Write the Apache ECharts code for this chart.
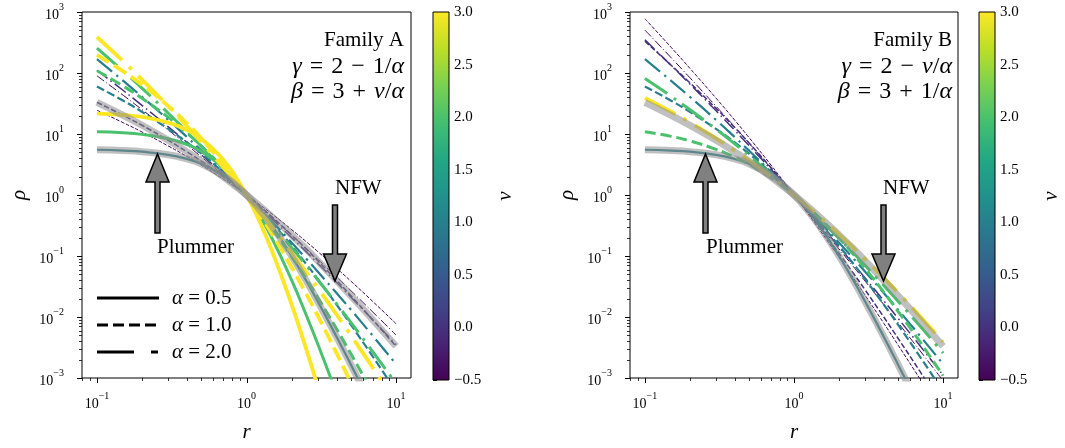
<!DOCTYPE html>
<html><head><meta charset="utf-8">
<script src="https://cdn.jsdelivr.net/npm/echarts@6/dist/echarts.min.js"></script>
<style>html,body{margin:0;padding:0;background:#fff}#c{width:1065px;height:448px}</style>
</head><body><div id="c"></div>
<script>
// ---------------- data ----------------
const r = [0.1,0.15,0.2,0.3,0.4,0.5,0.7,0.85,1,1.2,1.5,2,2.5,3,4,5,7,10];
const xMajorTicks = [0.1,1,10];
const yMajorTicks = [1e-3,1e-2,1e-1,1,10,100,1000];

// reference profiles (grey)
const rho_Plummer = [5.52,5.35,5.13,4.56,3.90,3.24,2.09,1.453,1,0.608,0.297,0.101,0.0400,0.0179,0.00475,0.00164,0.00032];
const rho_NFW     = [33.1,20.2,13.9,7.89,5.10,3.56,1.98,1.375,1,0.689,0.427,0.222,0.131,0.0833,0.04,0.0222,0.00893,0.00331];

// Family A, alpha = 0.5 (solid)
const A_a05_nu1 = [5.52,5.35,5.13,4.56,3.90,3.24,2.09,1.453,1,0.608,0.297,0.101,0.0400,0.0179,0.00475,0.00164,0.00032];
const A_a05_nu2 = [10.9,10.5,9.86,8.37,6.73,5.18,2.80,1.687,1,0.498,0.183,0.0405,0.0110,0.00358,0.000559,0.000126];
const A_a05_nu3 = [21.6,20.5,19.0,15.4,11.6,8.29,3.76,1.958,1,0.409,0.112,0.0162,0.00304,0.000716,0.0000657];
// Family A, alpha = 1.0 (dashed)
const A_a1_num05 = [24.5,15.3,10.8,6.36,4.27,3.08,1.82,1.322,1,0.722,0.477,0.272,0.173,0.118,0.0632,0.0385,0.0179,0.00775];
const A_a1_nu0   = [33.1,20.2,13.9,7.89,5.10,3.56,1.98,1.375,1,0.689,0.427,0.222,0.131,0.0833,0.04,0.0222,0.00893,0.00331];
const A_a1_nu1   = [60.1,35.1,23.1,12.1,7.29,4.74,2.33,1.486,1,0.626,0.341,0.148,0.0746,0.0417,0.016,0.00741,0.00223,0.000601];
const A_a1_nu2   = [109,61.0,38.6,18.7,10.4,6.32,2.74,1.607,1,0.569,0.273,0.0988,0.0427,0.0208,0.0064,0.00247,0.000558,0.000109];
const A_a1_nu3   = [199,106,64.3,28.7,14.9,8.43,3.22,1.737,1,0.517,0.219,0.0658,0.0244,0.0104,0.00256,0.000823,0.000139];
// Family A, alpha = 2.0 (dash-dot)
const A_a2_num05 = [90.0,43.0,25.1,11.6,6.57,4.20,2.11,1.409,1,0.677,0.417,0.221,0.134,0.0882,0.0454,0.0269,0.0120,0.00506];
const A_a2_nu0   = [111,51.6,29.5,13.1,7.27,4.55,2.21,1.438,1,0.661,0.396,0.201,0.118,0.0755,0.0370,0.0211,0.00891,0.00351];
const A_a2_nu1   = [169,74.3,40.8,17.0,8.91,5.33,2.40,1.496,1,0.631,0.356,0.167,0.0912,0.0553,0.0247,0.0131,0.00489,0.00169];
const A_a2_nu2   = [256,107,56.4,21.9,10.9,6.24,2.61,1.557,1,0.603,0.320,0.138,0.0707,0.0405,0.0165,0.00806,0.00268,0.00081];
const A_a2_nu3   = [389,155,77.9,28.4,13.4,7.31,2.85,1.620,1,0.575,0.287,0.114,0.0548,0.0296,0.0110,0.00498,0.00147,0.000389];

// Family B, alpha = 0.5 (solid)
const B_a05_nu1 = [5.52,5.35,5.13,4.56,3.90,3.24,2.09,1.453,1,0.608,0.297,0.101,0.0400,0.0179,0.00475,0.00164,0.00032];
// Family B, alpha = 1.0 (dashed)
const B_a1_num05 = [775,263,120,38.7,16.9,8.71,3.11,1.688,1,0.550,0.260,0.0962,0.0437,0.0227,0.00791,0.00344,0.000964,0.000245];
const B_a1_nu0   = [331,134,69.4,26.3,12.8,7.11,2.83,1.618,1,0.574,0.284,0.111,0.0522,0.0278,0.01,0.00444,0.00128,0.000331];
const B_a1_nu1   = [60.1,35.1,23.1,12.1,7.29,4.74,2.33,1.486,1,0.626,0.341,0.148,0.0746,0.0417,0.016,0.00741,0.00223,0.000601];
const B_a1_nu2   = [10.9,9.15,7.72,5.60,4.17,3.16,1.92,1.366,1,0.683,0.410,0.198,0.107,0.0625,0.0256,0.0123,0.00391,0.00109];
// Family B, alpha = 2.0 (dash-dot)
const B_a2_num05 = [506,178,84.0,28.5,13.1,7.07,2.76,1.592,1,0.591,0.308,0.131,0.0672,0.0387,0.0160,0.00803,0.00280,0.0009];
const B_a2_nu0   = [351,133,66.0,24.0,11.5,6.43,2.64,1.559,1,0.604,0.323,0.142,0.0745,0.0436,0.0185,0.00945,0.00337,0.00111];
const B_a2_nu1   = [169,74.3,40.8,17.0,8.91,5.33,2.40,1.496,1,0.631,0.356,0.167,0.0912,0.0553,0.0247,0.0131,0.00489,0.00169];
const B_a2_nu2   = [81.0,41.5,25.2,12.0,6.90,4.41,2.19,1.436,1,0.660,0.391,0.195,0.112,0.0701,0.0329,0.0180,0.0071,0.00256];
const B_a2_nu3   = [38.9,23.2,15.6,8.51,5.35,3.66,1.99,1.377,1,0.690,0.431,0.229,0.137,0.0888,0.0439,0.0249,0.0103,0.00389];

// ---------------- style ----------------
const FONT = 'Liberation Serif';
const viridis = ['#440154','#482475','#414487','#355f8d','#2a788e','#21918c','#22a884','#44bf70','#7ad151','#bddf26','#fde725'];
const nuColor = {'-0.5':'#440154','0':'#46307e','1':'#277f8e','2':'#4ac16d','3':'#fde725'};
const nuWidth = {'-0.5':1,'0':1.5,'1':2.2,'2':3,'3':3.8};
const G = [{left:82,top:12,width:329,height:368},{left:630,top:12,width:328,height:368}];
const CB = [{left:433,top:12,width:16,height:368},{left:979,top:12,width:16,height:368}];
const XMIN = Math.pow(10,-1.1), XMAX = Math.pow(10,1.1), YMIN = 1e-3, YMAX = 1e3;

function pairs(v){ return v.map((y,i)=>[r[i],y]); }
function dashFor(alpha, lw){
  if (alpha === 0.5) return 'solid';
  if (alpha === 1) return [3.7*lw, 1.6*lw];
  return [9*lw, 2.5*lw, 1*lw, 2.5*lw];
}
function curve(panel, alpha, nu, vals){
  const lw = nuWidth[String(nu)];
  return {type:'line', xAxisIndex:panel, yAxisIndex:panel, data:pairs(vals), showSymbol:false,
    smooth:0.5, silent:true, clip:true,
    lineStyle:{color:nuColor[String(nu)], width:lw, type:dashFor(alpha,lw), cap:'butt'}};
}
function grey(panel, vals){
  return {type:'line', xAxisIndex:panel, yAxisIndex:panel, data:pairs(vals), showSymbol:false,
    smooth:0.5, silent:true, clip:true, z:5,
    lineStyle:{color:'#8c8c8c', opacity:0.55, width:7}};
}

const series = [
  curve(0,1,-0.5,A_a1_num05), curve(0,2,-0.5,A_a2_num05),
  curve(0,1,0,A_a1_nu0), curve(0,2,0,A_a2_nu0),
  curve(0,0.5,1,A_a05_nu1), curve(0,1,1,A_a1_nu1), curve(0,2,1,A_a2_nu1),
  curve(0,0.5,2,A_a05_nu2), curve(0,1,2,A_a1_nu2), curve(0,2,2,A_a2_nu2),
  curve(0,0.5,3,A_a05_nu3), curve(0,1,3,A_a1_nu3), curve(0,2,3,A_a2_nu3),
  grey(0,rho_NFW), grey(0,rho_Plummer),
  curve(1,1,-0.5,B_a1_num05), curve(1,2,-0.5,B_a2_num05),
  curve(1,1,0,B_a1_nu0), curve(1,2,0,B_a2_nu0),
  curve(1,0.5,1,B_a05_nu1), curve(1,1,1,B_a1_nu1), curve(1,2,1,B_a2_nu1),
  curve(1,1,2,B_a1_nu2), curve(1,2,2,B_a2_nu2),
  curve(1,2,3,B_a2_nu3),
  grey(1,rho_NFW), grey(1,rho_Plummer)
];

// tick marks (major + minor) drawn through the axes' scales
const xTickData = [], yTickData = [];
xMajorTicks.forEach(v=>xTickData.push([v,YMIN,1]));
[0.01,0.1,1].forEach(d=>{ for(let m=2;m<=9;m++){ const v=m*d; if(v>XMIN&&v<XMAX) xTickData.push([v,YMIN,0]); }});
yMajorTicks.forEach(v=>yTickData.push([XMIN,v,1]));
[1e-3,1e-2,1e-1,1,10,100].forEach(d=>{ for(let m=2;m<=9;m++) yTickData.push([XMIN,m*d,0]); });
function tickSeries(panel, data, dir){
  return {type:'custom', xAxisIndex:panel, yAxisIndex:panel, silent:true, z:10, data:data,
    renderItem:function(params, api){
      const major = api.value(2)===1; const len = major?5:3;
      const p = api.coord([api.value(0), api.value(1)]);
      const shape = dir==='x' ? {x1:Math.round(p[0])+0.5,y1:p[1],x2:Math.round(p[0])+0.5,y2:p[1]+len}
                              : {x1:p[0],y1:Math.round(p[1])+0.5,x2:p[0]-len,y2:Math.round(p[1])+0.5};
      return {type:'line', shape:shape, style:{stroke:'#000', lineWidth:major?1:0.8}};
    }};
}
series.push(tickSeries(0,xTickData,'x'), tickSeries(0,yTickData,'y'), tickSeries(1,xTickData,'x'), tickSeries(1,yTickData,'y'));

function powLabel(v){
  const e = Math.log10(v); const k = Math.round(e);
  if (Math.abs(e-k) > 1e-6) return '';
  return '{b|10}{s|' + String(k).replace('-','\u2212') + '}';
}
const powRich = {b:{fontSize:14, fontFamily:FONT, color:'#000', lineHeight:20, verticalAlign:'bottom'},
                 s:{fontSize:10, fontFamily:FONT, color:'#000', lineHeight:20, verticalAlign:'top'}};

const grids = [], xAxes = [], yAxes = [];
[0,1].forEach(i=>{
  grids.push(Object.assign({show:true, borderColor:'#000', borderWidth:1, backgroundColor:'transparent'}, G[i]));
  xAxes.push({type:'log', logBase:10, gridIndex:i, min:XMIN, max:XMAX,
    axisLine:{show:false}, axisTick:{show:false}, splitLine:{show:false},
    axisLabel:{formatter:powLabel, rich:powRich, margin:13},
    name:'r', nameLocation:'middle', nameGap:44,
    nameTextStyle:{fontFamily:FONT, fontStyle:'italic', fontSize:21, color:'#000'}});
  yAxes.push({type:'log', logBase:10, gridIndex:i, min:YMIN, max:YMAX,
    axisLine:{show:false}, axisTick:{show:false}, splitLine:{show:false},
    axisLabel:{formatter:powLabel, rich:powRich, margin:18},
    name:'\u03c1', nameLocation:'middle', nameGap:52,
    nameTextStyle:{fontFamily:FONT, fontStyle:'italic', fontSize:21, color:'#000'}});
});
[0,1].forEach(i=>{
  grids.push(Object.assign({show:false}, CB[i]));
  xAxes.push({type:'value', gridIndex:2+i, min:0, max:1, show:false});
  yAxes.push({type:'value', gridIndex:2+i, min:-0.5, max:3, interval:0.5, position:'right',
    axisLine:{show:false}, splitLine:{show:false},
    axisTick:{show:true, inside:false, length:4, lineStyle:{color:'#000', width:1}},
    axisLabel:{fontFamily:FONT, fontSize:15, color:'#000', margin:5,
      formatter:v=>v.toFixed(1).replace('-','\u2212')},
    name:'\u03bd', nameLocation:'middle', nameGap:46,
    nameTextStyle:{fontFamily:FONT, fontStyle:'italic', fontSize:21, color:'#000'}});
});

// ---------------- annotations ----------------
const gfx = [];
CB.forEach(c=>{
  gfx.push({type:'rect', shape:{x:c.left,y:c.top,width:c.width,height:c.height}, z:1,
    style:{fill:{type:'linear',x:0,y:1,x2:0,y2:0,colorStops:viridis.map((col,i)=>({offset:i/(viridis.length-1),color:col}))},
           stroke:'#000', lineWidth:1}});
});
function arrowUp(cx,tip,base,bottom){
  return {type:'polygon', z:100, shape:{points:[[cx,tip],[cx+11.5,base],[cx+2.5,base],[cx+2.5,bottom],[cx-2.5,bottom],[cx-2.5,base],[cx-11.5,base]]},
    style:{fill:'#808080', stroke:'#000', lineWidth:1.5}};
}
function arrowDown(cx,tip,base,top){
  return {type:'polygon', z:100, shape:{points:[[cx,tip],[cx+11.5,base],[cx+2.5,base],[cx+2.5,top],[cx-2.5,top],[cx-2.5,base],[cx-11.5,base]]},
    style:{fill:'#808080', stroke:'#000', lineWidth:1.5}};
}
function txt(x,y,text,size,align,rich){
  return {type:'text', x:x, y:y, z:100, style:{text:text, fontSize:size, fontFamily:FONT, fill:'#000',
    align:align, textAlign:align, verticalAlign:'middle', textVerticalAlign:'middle', rich:rich||{}}};
}
const mathRich = {i:{fontStyle:'italic', fontSize:24, fontFamily:FONT, fill:'#000'}, n:{fontSize:24, fontFamily:FONT, fill:'#000'}};
const legRich = {i:{fontStyle:'italic', fontSize:21, fontFamily:FONT, fill:'#000'}, n:{fontSize:21, fontFamily:FONT, fill:'#000'}};
const S = '\u2004';
gfx.push(arrowUp(157.5,154,182,233), arrowDown(335,281,254,205), arrowUp(705.5,154,182,233), arrowDown(883.5,281,254,205));
gfx.push(txt(157,247,'Plummer',21,'left'), txt(335,188,'NFW',21,'left'),
         txt(706,247,'Plummer',21,'left'), txt(883,188,'NFW',21,'left'));
gfx.push(txt(404,40,'Family A',21,'right'),
         txt(404,67,'{i|\u03b3}{n|'+S+'='+S+'2'+S+'\u2212'+S+'1/}{i|\u03b1}',24,'right',mathRich),
         txt(404,92,'{i|\u03b2}{n|'+S+'='+S+'3'+S+'+'+S+'}{i|\u03bd}{n|/}{i|\u03b1}',24,'right',mathRich),
         txt(952,40,'Family B',21,'right'),
         txt(952,67,'{i|\u03b3}{n|'+S+'='+S+'2'+S+'\u2212'+S+'}{i|\u03bd}{n|/}{i|\u03b1}',24,'right',mathRich),
         txt(952,92,'{i|\u03b2}{n|'+S+'='+S+'3'+S+'+'+S+'1/}{i|\u03b1}',24,'right',mathRich));
// legend (alpha line styles)
const legendRows = [{y:298, dash:'solid', label:'0.5'},{y:325, dash:[11,5], label:'1.0'},{y:352, dash:[37,17,7,17], label:'2.0'}];
legendRows.forEach(row=>{
  gfx.push({type:'line', z:100, shape:{x1:97,y1:row.y,x2:159,y2:row.y}, style:{stroke:'#000', lineWidth:3, lineDash:row.dash==='solid'?null:row.dash}});
  gfx.push(txt(172,row.y,'{i|\u03b1}{n| = '+row.label+'}',21,'left',legRich));
});

const chart = echarts.init(document.getElementById('c'), null, {renderer:'canvas'});
chart.setOption({animation:false, backgroundColor:'#fff', grid:grids, xAxis:xAxes, yAxis:yAxes, series:series, graphic:gfx});
</script></body></html>
